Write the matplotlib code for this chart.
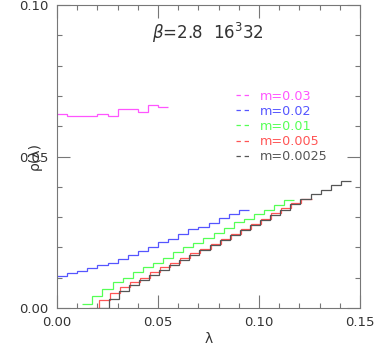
"""Spectral density rho(lambda) for several quark masses."""

import matplotlib
matplotlib.use('Agg')
from matplotlib import pyplot as plt
from matplotlib.lines import Line2D
from matplotlib.ticker import MultipleLocator, FormatStrFormatter
import numpy as np

bin_width = 0.005

labels = ['m=0.03', 'm=0.02', 'm=0.01', 'm=0.005', 'm=0.0025']
colors = ['#ff55ff', '#5555ff', '#55ff55', '#ff5555', '#555555']

# first bin edge of each histogram
starts = [0.0, 0.0, 0.0125, 0.016, 0.0205]

rho_m003 = [0.0640, 0.0634, 0.0634, 0.0634, 0.0640, 0.0634, 0.0656, 0.0656,
            0.0648, 0.0670, 0.0664]
rho_m002 = [0.0106, 0.0116, 0.0123, 0.0133, 0.0141, 0.0150, 0.0163, 0.0174,
            0.0189, 0.0200, 0.0217, 0.0227, 0.0243, 0.0260, 0.0268, 0.0280,
            0.0296, 0.0309, 0.0322]
rho_m001 = [0.0013, 0.0040, 0.0062, 0.0085, 0.0100, 0.0118, 0.0135, 0.0150,
            0.0165, 0.0186, 0.0200, 0.0216, 0.0232, 0.0248, 0.0265, 0.0283,
            0.0294, 0.0309, 0.0323, 0.0340, 0.0356]
rho_m0005 = [0.0000, 0.0026, 0.0050, 0.0068, 0.0085, 0.0100, 0.0118, 0.0135,
             0.0150, 0.0165, 0.0180, 0.0196, 0.0212, 0.0228, 0.0245, 0.0262,
             0.0278, 0.0295, 0.0312, 0.0330, 0.0346, 0.0361]
rho_m00025 = [0.0000, 0.0030, 0.0055, 0.0075, 0.0092, 0.0110, 0.0127, 0.0143,
              0.0160, 0.0175, 0.0192, 0.0208, 0.0225, 0.0242, 0.0258, 0.0275,
              0.0292, 0.0308, 0.0325, 0.0342, 0.0360, 0.0375, 0.0390, 0.0405,
              0.0420]

series = [rho_m003, rho_m002, rho_m001, rho_m0005, rho_m00025]

fig = plt.figure(figsize=(3.74, 3.46), dpi=100)
ax = fig.add_axes([57 / 374, 38 / 346, 303 / 374, 303 / 346])

for vals, start, col in zip(series, starts, colors):
    edges = start + bin_width * np.arange(len(vals) + 1)
    ax.stairs(vals, edges, color=col, lw=0.9, baseline=None)

ax.set_xlim(0, 0.15)
ax.set_ylim(0, 0.10)
ax.xaxis.set_major_locator(MultipleLocator(0.05))
ax.xaxis.set_minor_locator(MultipleLocator(0.01))
ax.yaxis.set_major_locator(MultipleLocator(0.05))
ax.yaxis.set_minor_locator(MultipleLocator(0.01))
ax.xaxis.set_major_formatter(FormatStrFormatter('%.2f'))
ax.yaxis.set_major_formatter(FormatStrFormatter('%.2f'))
ax.tick_params(which='both', direction='in', top=True, right=True,
               color='#777777', labelcolor='#333333', labelsize=9.5)
ax.tick_params(which='major', length=9.4, width=0.8, pad=6)
ax.tick_params(which='minor', length=3.4, width=0.8)
for sp in ax.spines.values():
    sp.set_color('#777777')
    sp.set_linewidth(0.8)

ax.set_xlabel('λ', fontsize=10, color='#333333')
ax.set_ylabel('ρ(λ)', fontsize=10, color='#333333')
ax.xaxis.set_label_coords(0.5, -0.078)
ax.yaxis.set_label_coords(-0.05, 0.5)

ax.text(0.498, 0.9076, r'$\beta$=2.8  16$^3$32', transform=ax.transAxes,
        ha='center', va='center', fontsize=12, color='#333333')

handles = [Line2D([], [], color=c, lw=0.9, dashes=(3.5, 3.0)) for c in colors]
ax.legend(handles, labels, loc='upper left', bbox_to_anchor=(0.592, 0.72),
          frameon=False, fontsize=9.2, labelcolor=colors, handlelength=1.1,
          handletextpad=0.7, labelspacing=0.16, borderpad=0, borderaxespad=0)

fig.savefig('out.png', dpi=100)
